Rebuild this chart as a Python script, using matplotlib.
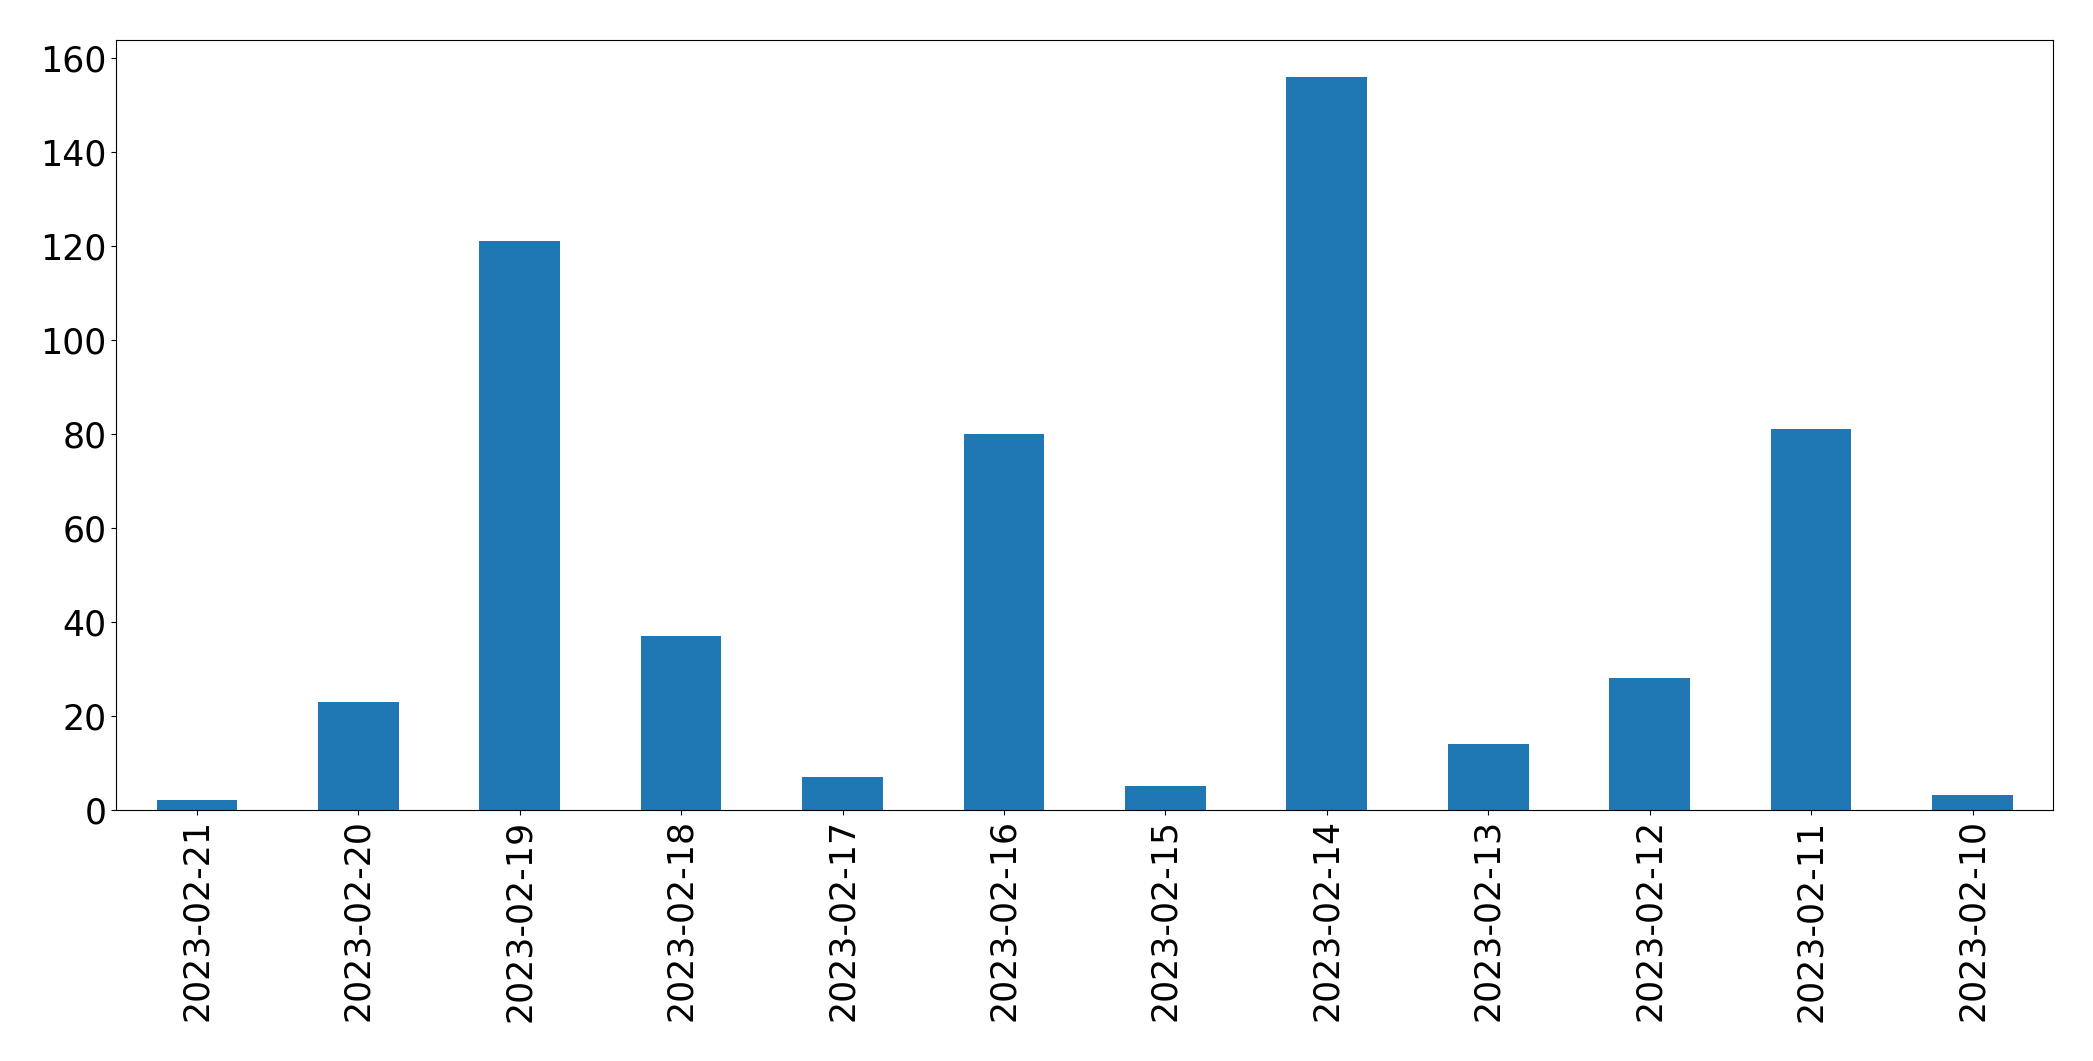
import matplotlib
matplotlib.use("Agg")
import matplotlib.pyplot as plt
import numpy as np

dates = ["2023-02-21", "2023-02-20", "2023-02-19", "2023-02-18", "2023-02-17", "2023-02-16",
         "2023-02-15", "2023-02-14", "2023-02-13", "2023-02-12", "2023-02-11", "2023-02-10"]
counts = [2, 23, 121, 37, 7, 80, 5, 156, 14, 28, 81, 3]

fig = plt.figure(figsize=(20.93, 10.61), dpi=100)
ax = fig.add_axes([0.0555, 0.237, 0.9255, 0.725])
x = np.arange(len(dates))
ax.bar(x, counts, width=0.5, color="#1f77b4")
ax.set_xlim(-0.5, len(dates) - 0.5)
ax.set_ylim(0, max(counts) * 1.05)
ax.set_xticks(x)
ax.set_xticklabels(dates, rotation=90, fontsize=25)
ax.tick_params(axis="y", labelsize=25)
fig.savefig("out.png", dpi=100)
